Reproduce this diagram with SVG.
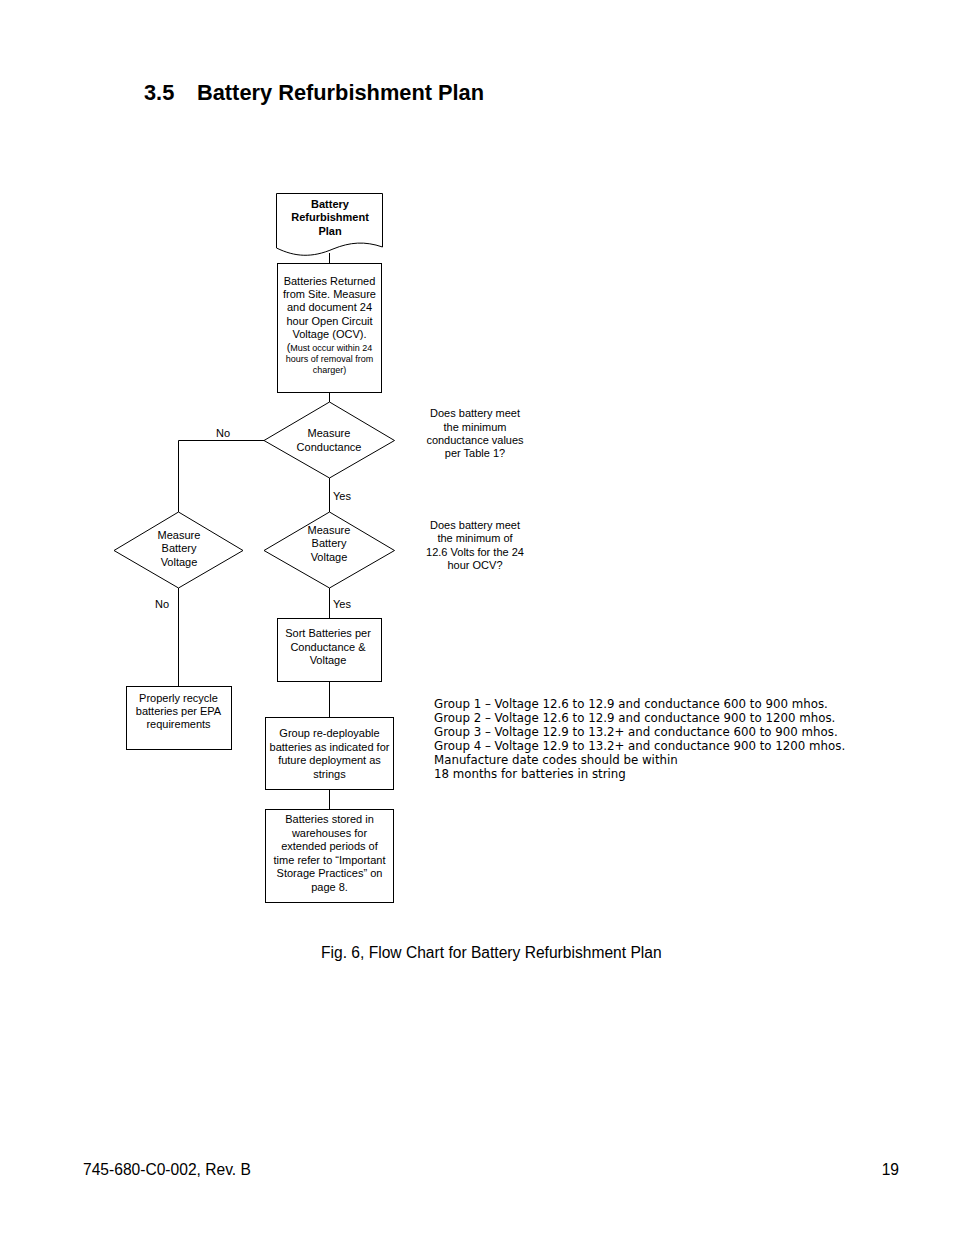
<svg xmlns="http://www.w3.org/2000/svg" width="954" height="1235" viewBox="0 0 954 1235">
<style>
  .bg { fill: #ffffff; }
  .shape { fill: #ffffff; stroke: #000000; stroke-width: 1; }
  .conn { fill: none; stroke: #000000; stroke-width: 1; }
  .t { font-family: "Liberation Sans", Arial, sans-serif; font-size: 11px; fill: #000000; text-anchor: middle; }
  .tb { font-family: "Liberation Sans", Arial, sans-serif; font-size: 11px; font-weight: bold; fill: #000000; text-anchor: middle; }
  .ts { font-family: "Liberation Sans", Arial, sans-serif; font-size: 9px; fill: #000000; text-anchor: middle; }
  .lbl { font-family: "Liberation Sans", Arial, sans-serif; font-size: 11px; fill: #000000; }
  .grp { font-family: "DejaVu Sans", Verdana, sans-serif; font-size: 11.8px; fill: #000000; }
  .title { font-family: "Liberation Sans", Arial, sans-serif; font-size: 21.8px; font-weight: bold; fill: #000000; }
  .page { font-family: "Liberation Sans", Arial, sans-serif; font-size: 15.6px; fill: #000000; }
</style>
<rect class="bg" x="0" y="0" width="954" height="1235"/>

<text class="title" x="144" y="100">3.5</text>
<text class="title" x="197" y="100">Battery Refurbishment Plan</text>

<g id="connectors">
  <line class="conn" x1="329.5" y1="253" x2="329.5" y2="263"/>
  <line class="conn" x1="329.5" y1="392" x2="329.5" y2="402"/>
  <polyline class="conn" points="264,440.5 178.5,440.5 178.5,512"/>
  <line class="conn" x1="329.5" y1="478" x2="329.5" y2="512"/>
  <line class="conn" x1="178.5" y1="588" x2="178.5" y2="686"/>
  <line class="conn" x1="329.5" y1="588" x2="329.5" y2="618"/>
  <line class="conn" x1="329.5" y1="681" x2="329.5" y2="717"/>
  <line class="conn" x1="329.5" y1="789" x2="329.5" y2="809"/>
  <text class="lbl" x="216" y="437">No</text>
  <text class="lbl" x="333" y="500">Yes</text>
  <text class="lbl" x="155" y="608">No</text>
  <text class="lbl" x="333" y="608">Yes</text>
</g>

<g id="start">
  <path class="shape" d="M276.5,193.5 H382.5 V247 C365,241 350,242 333,249 C312,258 295,257 276.5,248 Z"/>
  <text class="tb" x="330" y="208">Battery</text>
  <text class="tb" x="330" y="221">Refurbishment</text>
  <text class="tb" x="330" y="235">Plan</text>
</g>

<g id="returned">
  <rect class="shape" x="277.5" y="263.5" width="104" height="129"/>
  <text class="t" x="329.5" y="285">Batteries Returned</text>
  <text class="t" x="329.5" y="298">from Site.  Measure</text>
  <text class="t" x="329.5" y="311">and document 24</text>
  <text class="t" x="329.5" y="325">hour Open Circuit</text>
  <text class="t" x="329.5" y="338">Voltage (OCV).</text>
  <text class="ts" x="329.5" y="351"><tspan font-size="11px">(</tspan>Must occur within 24</text>
  <text class="ts" x="329.5" y="362">hours of removal from</text>
  <text class="ts" x="329.5" y="373">charger)</text>
</g>

<g id="conductance">
  <polygon class="shape" points="329.5,402 394.5,440.5 329.5,478 264,440.5"/>
  <text class="t" x="329" y="437">Measure</text>
  <text class="t" x="329" y="451">Conductance</text>
</g>

<g id="voltage-left">
  <polygon class="shape" points="178.5,512 243,550.5 178.5,588 114,550.5"/>
  <text class="t" x="179" y="539">Measure</text>
  <text class="t" x="179" y="552">Battery</text>
  <text class="t" x="179" y="566">Voltage</text>
</g>

<g id="voltage-right">
  <polygon class="shape" points="329.5,512 394.5,550.5 329.5,588 264,550.5"/>
  <text class="t" x="329" y="534">Measure</text>
  <text class="t" x="329" y="547">Battery</text>
  <text class="t" x="329" y="561">Voltage</text>
</g>

<g id="sort">
  <rect class="shape" x="277.5" y="618.5" width="104" height="63"/>
  <text class="t" x="328" y="637">Sort Batteries per</text>
  <text class="t" x="328" y="651">Conductance &amp;</text>
  <text class="t" x="328" y="664">Voltage</text>
</g>

<g id="group">
  <rect class="shape" x="265.5" y="717.5" width="128" height="72"/>
  <text class="t" x="329.5" y="737">Group re-deployable</text>
  <text class="t" x="329.5" y="751">batteries as indicated for</text>
  <text class="t" x="329.5" y="764">future deployment as</text>
  <text class="t" x="329.5" y="778">strings</text>
</g>

<g id="stored">
  <rect class="shape" x="265.5" y="809.5" width="128" height="93"/>
  <text class="t" x="329.5" y="823">Batteries stored in</text>
  <text class="t" x="329.5" y="837">warehouses for</text>
  <text class="t" x="329.5" y="850">extended periods of</text>
  <text class="t" x="329.5" y="864">time refer to “Important</text>
  <text class="t" x="329.5" y="877">Storage Practices” on</text>
  <text class="t" x="329.5" y="891">page 8.</text>
</g>

<g id="recycle">
  <rect class="shape" x="126.5" y="686.5" width="105" height="63"/>
  <text class="t" x="178.5" y="702">Properly recycle</text>
  <text class="t" x="178.5" y="715">batteries per EPA</text>
  <text class="t" x="178.5" y="728">requirements</text>
</g>

<g id="note-conductance">
  <text class="t" x="475" y="417">Does battery meet</text>
  <text class="t" x="475" y="431">the minimum</text>
  <text class="t" x="475" y="444">conductance values</text>
  <text class="t" x="475" y="457">per Table 1?</text>
</g>

<g id="note-voltage">
  <text class="t" x="475" y="529">Does battery meet</text>
  <text class="t" x="475" y="542">the minimum of</text>
  <text class="t" x="475" y="556">12.6 Volts for the 24</text>
  <text class="t" x="475" y="569">hour OCV?</text>
</g>

<g id="groups-note">
  <text class="grp" x="434" y="708">Group 1 – Voltage 12.6 to 12.9 and conductance 600 to 900 mhos.</text>
  <text class="grp" x="434" y="722">Group 2 – Voltage 12.6 to 12.9 and conductance 900 to 1200 mhos.</text>
  <text class="grp" x="434" y="736">Group 3 – Voltage 12.9 to 13.2+ and conductance 600 to 900 mhos.</text>
  <text class="grp" x="434" y="750">Group 4 – Voltage 12.9 to 13.2+ and conductance 900 to 1200 mhos.</text>
  <text class="grp" x="434" y="764">Manufacture date codes should be within</text>
  <text class="grp" x="434" y="778">18 months for batteries in string</text>
</g>

<text class="page" x="321" y="958">Fig. 6, Flow Chart for Battery Refurbishment Plan</text>
<text class="page" x="83" y="1175">745-680-C0-002, Rev. B</text>
<text class="page" x="899" y="1175" text-anchor="end">19</text>
</svg>
